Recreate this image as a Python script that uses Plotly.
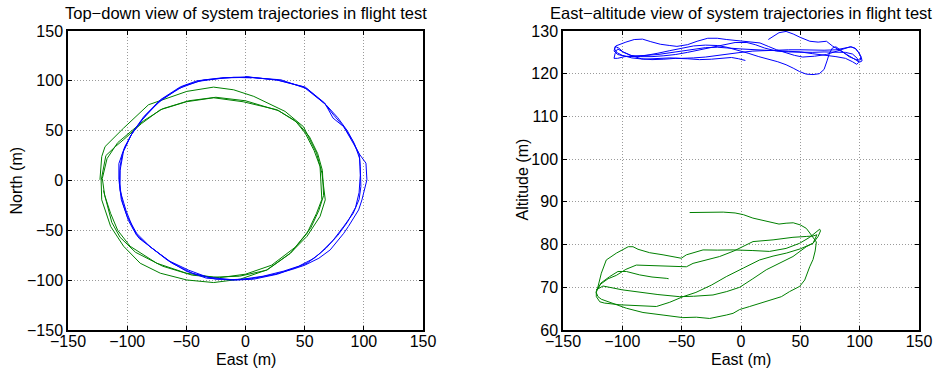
import plotly.graph_objects as go

# ---------------- data: top-down view (east, north) ----------------
top_blue_lap1_east = [0, 26, 49, 67, 75, 83, 90, 96, 97, 97.5, 96, 91, 83, 74, 63, 52, 41, 27, 7, -10, -33, -50, -66, -81, -92, -100, -105, -107, -107, -102, -95, -86, -72, -55, -41, -20]
top_blue_lap1_north = [104, 101, 94, 77, 65, 54, 41, 27, 14, -6, -19, -33, -46, -60, -73, -83, -88, -94, -99, -100, -98, -91, -80, -66, -53, -36, -19, 1, 17, 34, 49, 64, 81, 94, 100, 103]
top_blue_lap2_east = [2, 28, 50.5, 67, 74, 83, 91, 95.6, 101.8, 102.6, 98.4, 95.6, 87, 83, 71.6, 62, 50, 40, 25, 5, -12, -32, -48, -64, -79, -89, -92, -99, -104, -106.5, -106, -104, -97, -88, -74, -57, -40, -18]
top_blue_lap2_north = [104, 100.5, 93.7, 77.7, 62.6, 54, 37.5, 27.5, 17.4, 0.7, -19.4, -29.5, -46, -53, -69.6, -78, -85, -89, -94, -98.5, -99.5, -97, -90, -81, -68, -58, -55, -40, -22, -3, 14, 27, 45, 60, 78, 92, 99.5, 103]
top_blue_lap3_east = [3, 30, 52, 68, 78, 86, 92, 96.5, 97, 96, 93, 86, 78, 68, 58, 45, 32, 15, -5, -25, -45, -62, -77, -86, -90, -95, -101, -106, -106, -103, -96, -84, -70, -52, -35, -10, 5]
top_blue_lap3_north = [103.5, 101, 92, 76, 63, 50, 37, 22, 5, -12, -27, -42, -55, -68, -78, -86, -91, -96, -99.5, -99, -93, -83, -70, -62, -58, -48, -30, -10, 10, 30, 47, 66, 82, 95, 101, 103.5, 103]

top_green_lap1_east = [-123, -121.5, -118.7, -103, -82, -66.5, -49.6, -27, -10, 7, 33.5, 49, 60, 64.6, 67.4, 63, 52, 37.8, 18, -4.5, -27, -49.6, -72, -89, -103, -114, -121.5]
top_green_lap1_north = [0.7, 24, 34, 52.6, 76, 82.7, 89.4, 93.7, 91, 84.4, 69.3, 54, 27.5, 7.4, -19.4, -36, -56, -73, -89.7, -99, -102.4, -99.8, -93, -83, -66, -46, -19.4]
top_green_lap2_east = [-122, -118, -110, -103, -88, -72, -50, -27, -2, 26.5, 42, 50.5, 58, 63, 64.5, 60, 52, 38, 18, -5, -27, -50, -75, -97.5, -108, -114, -119]
top_green_lap2_north = [0, 25, 34, 41, 57, 71, 79, 83, 79, 71, 60, 47.5, 30, 14, -19, -33, -53, -73, -90, -96, -97, -93, -83, -66, -50, -33, -15]
top_green_lap3_east = [-121, -117, -108, -100, -86, -70, -48, -25, 0, 28, 44, 54, 61, 65, 66, 62, 55, 42, 22, 0, -22, -45, -70, -93, -106, -113, -120]
top_green_lap3_north = [2, 22, 38, 46, 60, 72, 80, 83.5, 80, 70, 58, 44, 27, 10, -15, -30, -48, -67, -85, -94, -97.5, -95, -86, -72, -57, -42, -10]

# ---------------- data: east-altitude view (east, altitude) ----------------
side_blue_pts = [
    (23, 128.0), (27, 128.8), (32, 129.6), (38, 129.9), (44, 129.3), (50, 128.5), (58, 127.6), (65, 127.4),
    (72, 127.6), (77, 126.5), (83, 125.5), (90, 124.4), (96, 123.3), (100, 122.7), (102, 123.0), (101.5, 123.7),
    (100, 124.6), (97, 125.8), (93, 126.3), (88, 126.0), (80, 125.6), (70, 125.5), (60, 125.6), (50, 125.6),
    (40, 125.6), (30, 125.5), (20, 125.4), (10, 125.3), (0, 125.0), (-10, 124.6), (-20, 124.2), (-30, 123.9),
    (-40, 123.7), (-50, 123.6), (-60, 123.7), (-70, 123.6), (-82, 123.4), (-92, 123.7), (-100, 124.3),
    (-105, 125.0), (-106.5, 125.8), (-105.5, 126.5),
    (-102, 126.9), (-97, 127.4), (-90, 128.0), (-83, 128.1), (-76, 127.5), (-68, 126.9), (-60, 126.6),
    (-54, 126.4), (-45, 126.8), (-37, 127.6), (-28, 128.3), (-20, 128.3), (-12, 128.0), (-5, 127.8), (3, 127.6),
    (10, 127.5), (16, 127.2), (23, 126.4), (30, 125.6), (38, 124.9), (45, 124.3), (52, 123.9), (62, 124.1),
    (72, 124.5), (80, 125.2), (86, 125.8), (92, 126.3), (96, 126.0), (99, 125.0), (101, 124.0), (100.5, 123.2),
    (97, 123.3), (91, 124.0), (85, 125.3), (80, 126.3), (77, 126.0), (74.5, 124.8), (72.5, 123.0), (70, 121.0),
    (66, 120.0), (60.7, 119.8), (55, 119.9), (49.4, 120.5), (44, 121.3), (38, 122.1), (31, 122.8), (24, 123.3),
    (15, 124.0), (6, 124.8), (-3, 125.5), (-12, 126.2), (-20, 126.6), (-30, 126.7), (-40, 126.5), (-50, 126.0),
    (-60, 125.4), (-70, 124.8), (-80, 124.3), (-90, 124.0), (-98, 124.1), (-104, 124.5), (-107, 125.3),
    (-106, 126.4),
    (-103, 126.0), (-99, 125.0), (-93, 124.3), (-85, 124.0), (-75, 124.0), (-65, 124.2), (-55, 124.5),
    (-45, 125.0), (-35, 125.6), (-25, 126.2), (-15, 126.8), (-5, 127.3), (5, 127.3), (12, 126.8), (20, 126.0),
    (30, 125.3), (40, 125.1), (50, 125.0), (60, 125.0), (70, 125.1), (80, 125.1), (88, 125.0), (94, 124.6),
    (98, 123.6), (99, 122.6), (97.5, 122.2),
    (94, 122.8), (88, 123.6), (80, 124.0), (70, 124.3), (60, 124.7), (50, 125.1), (40, 125.3), (30, 125.4),
    (20, 125.5), (10, 125.6), (0, 125.8), (-10, 126.0), (-20, 126.2), (-30, 126.1), (-40, 125.7), (-50, 125.2),
    (-60, 124.8), (-70, 124.5), (-80, 124.3), (-90, 124.2), (-98, 124.0), (-104, 123.6), (-107, 123.6),
    (-106, 124.8), (-104, 125.8),
    (-100, 125.2), (-92, 124.2), (-84, 123.5), (-75, 123.3), (-65, 123.4), (-55, 123.6), (-45, 123.5),
    (-35, 123.3), (-25, 123.4), (-15, 123.6), (-8, 123.8), (-2, 123.5), (3.7, 123.1),
]

side_green_pts = [
    (-43.3, 87.5), (-30, 87.6), (-15, 87.6), (-5, 87.4), (2, 87.0), (10, 86.2), (20, 85.6), (32, 84.8),
    (38, 85.0), (44, 85.1), (50, 84.6), (55, 83.8), (58, 82.7), (61, 81.6), (63.5, 80.6),
    (62.5, 78.5), (60.7, 76.5), (57.9, 74.8), (55.5, 72.8), (53.7, 71.7), (49.4, 70.2), (41, 69.0), (34, 67.8),
    (24, 67.0), (15.7, 66.2), (7.3, 65.5), (-1.1, 64.8), (-6.7, 63.9), (-12.4, 63.5), (-26.4, 62.7),
    (-37.6, 63.0), (-49, 62.9), (-65.7, 63.5), (-82.6, 64.1), (-96.6, 65.1), (-110.7, 66.6), (-117.7, 67.2),
    (-120.5, 67.8), (-122, 68.75),
    (-121, 69.6), (-119, 71.5), (-117.7, 73.3), (-113.5, 76.4), (-105, 78.0), (-95, 79.5), (-91, 79.5),
    (-86.8, 78.9), (-77, 78.1), (-65.7, 77.6), (-50.3, 76.8), (-46, 77.6), (-37.6, 78.4), (-32, 78.75),
    (-20, 78.7), (-6.7, 78.75), (10, 78.6), (24, 78.4), (38, 79.1), (49.4, 80.3), (57.9, 81.7), (66.3, 83.6),
    (67, 83.2),
    (65, 81.9), (60.7, 80.3), (55, 79.5), (43.8, 77.2), (32, 75.5), (21.3, 74.1), (10, 72.0), (-1.1, 70.0),
    (-12, 69.0), (-23.6, 68.2), (-40, 67.9), (-51.7, 67.8), (-70, 68.3), (-85, 68.8), (-100, 69.4),
    (-116.3, 70.3), (-121.9, 69.4),
    (-118, 70.8), (-112, 72.0), (-105, 72.8), (-97, 74.2), (-88.2, 75.2), (-70, 75.1), (-55, 74.9), (-46, 74.8),
    (-40.4, 75.6), (-29.2, 76.4), (-18, 77.2), (-6, 78.5), (4.5, 79.9), (10.1, 80.7), (27, 81.1), (43.8, 81.7),
    (55, 81.9), (60.7, 82.0), (64, 82.3),
    (62, 81.0), (60.7, 80.3), (50, 79.0), (38.2, 78.0), (27, 77.3), (15.7, 76.4), (2, 74.5), (-12.4, 72.5),
    (-25, 70.5), (-38, 68.8), (-48.9, 67.8), (-60, 66.5), (-71.3, 65.5), (-85, 65.7), (-102, 65.9),
    (-115, 66.3), (-119, 66.6), (-121.9, 67.8), (-122, 69.0),
    (-118, 71.0), (-110.7, 72.5), (-103.7, 73.7), (-96.6, 73.7), (-85.4, 72.9), (-75, 72.4), (-63, 72.1),
    (-61, 72.0),
]

titles = ["Top\u2212down view of system trajectories in flight test",
          "East\u2212altitude view of system trajectories in flight test"]
x_label = "East (m)"
y_labels = ["North (m)", "Altitude (m)"]

BLUE = "#0000ff"
GREEN = "#008000"
FONT = "Liberation Sans, Arial, Helvetica, sans-serif"

top_blue_east = top_blue_lap1_east + top_blue_lap2_east + top_blue_lap3_east + [top_blue_lap1_east[0]]
top_blue_north = top_blue_lap1_north + top_blue_lap2_north + top_blue_lap3_north + [top_blue_lap1_north[0]]
top_green_east = top_green_lap1_east + top_green_lap2_east + top_green_lap3_east
top_green_north = top_green_lap1_north + top_green_lap2_north + top_green_lap3_north

fig = go.Figure()
line_w = 1.0
fig.add_trace(go.Scatter(x=top_green_east, y=top_green_north, mode="lines",
                         line=dict(color=GREEN, width=line_w), xaxis="x", yaxis="y"))
fig.add_trace(go.Scatter(x=top_blue_east, y=top_blue_north, mode="lines",
                         line=dict(color=BLUE, width=line_w), xaxis="x", yaxis="y"))
fig.add_trace(go.Scatter(x=[p[0] for p in side_blue_pts], y=[p[1] for p in side_blue_pts], mode="lines",
                         line=dict(color=BLUE, width=line_w), xaxis="x2", yaxis="y2"))
fig.add_trace(go.Scatter(x=[p[0] for p in side_green_pts], y=[p[1] for p in side_green_pts], mode="lines",
                         line=dict(color=GREEN, width=line_w), xaxis="x2", yaxis="y2"))

W, H = 939, 374
axis_common = dict(showline=True, linecolor="black", linewidth=1.5, mirror="ticks", ticks="inside",
                   ticklen=4, tickcolor="black", tickwidth=1, showgrid=True, gridcolor="#9a9a9a",
                   griddash="1px,2px", gridwidth=1, zeroline=False, automargin=False,
                   tickfont=dict(family=FONT, size=16, color="black"))
x_extra = dict(ticklabelstandoff=-4)
ydom = [1 - 330 / H, 1 - 31 / H]


def txt(text, xpx, ypx, size=16, angle=0):
    return dict(text=text, x=xpx / W, y=1 - ypx / H, xref="paper", yref="paper",
                showarrow=False, xanchor="center", yanchor="middle", textangle=angle,
                font=dict(family=FONT, size=size, color="black"))


fig.update_layout(
    template="none",
    width=W, height=H, margin=dict(l=0, r=0, t=0, b=0),
    paper_bgcolor="white", plot_bgcolor="white", showlegend=False,
    xaxis=dict(domain=[68 / W, 423 / W], range=[-150, 150], dtick=50, anchor="y", **x_extra, **axis_common),
    yaxis=dict(domain=ydom, range=[-150, 150], dtick=50, anchor="x", **axis_common),
    xaxis2=dict(domain=[563 / W, 919 / W], range=[-150, 150], dtick=50, anchor="y2", **x_extra, **axis_common),
    yaxis2=dict(domain=ydom, range=[60, 130], dtick=10, anchor="x2", **axis_common),
    annotations=[
        txt(titles[0], (68 + 423) / 2, 13, size=16.5),
        txt(titles[1], (563 + 919) / 2, 13, size=16.5),
        txt(x_label, (68 + 423) / 2, 359),
        txt(x_label, (563 + 919) / 2, 359),
        txt(y_labels[0], 16.5, 181, angle=-90),
        txt(y_labels[1], 522.5, 180, angle=-90),
    ],
)

fig.write_html("out.html", config={"displayModeBar": False},
               post_script="document.body.style.margin='0';document.body.style.overflow='hidden';")
